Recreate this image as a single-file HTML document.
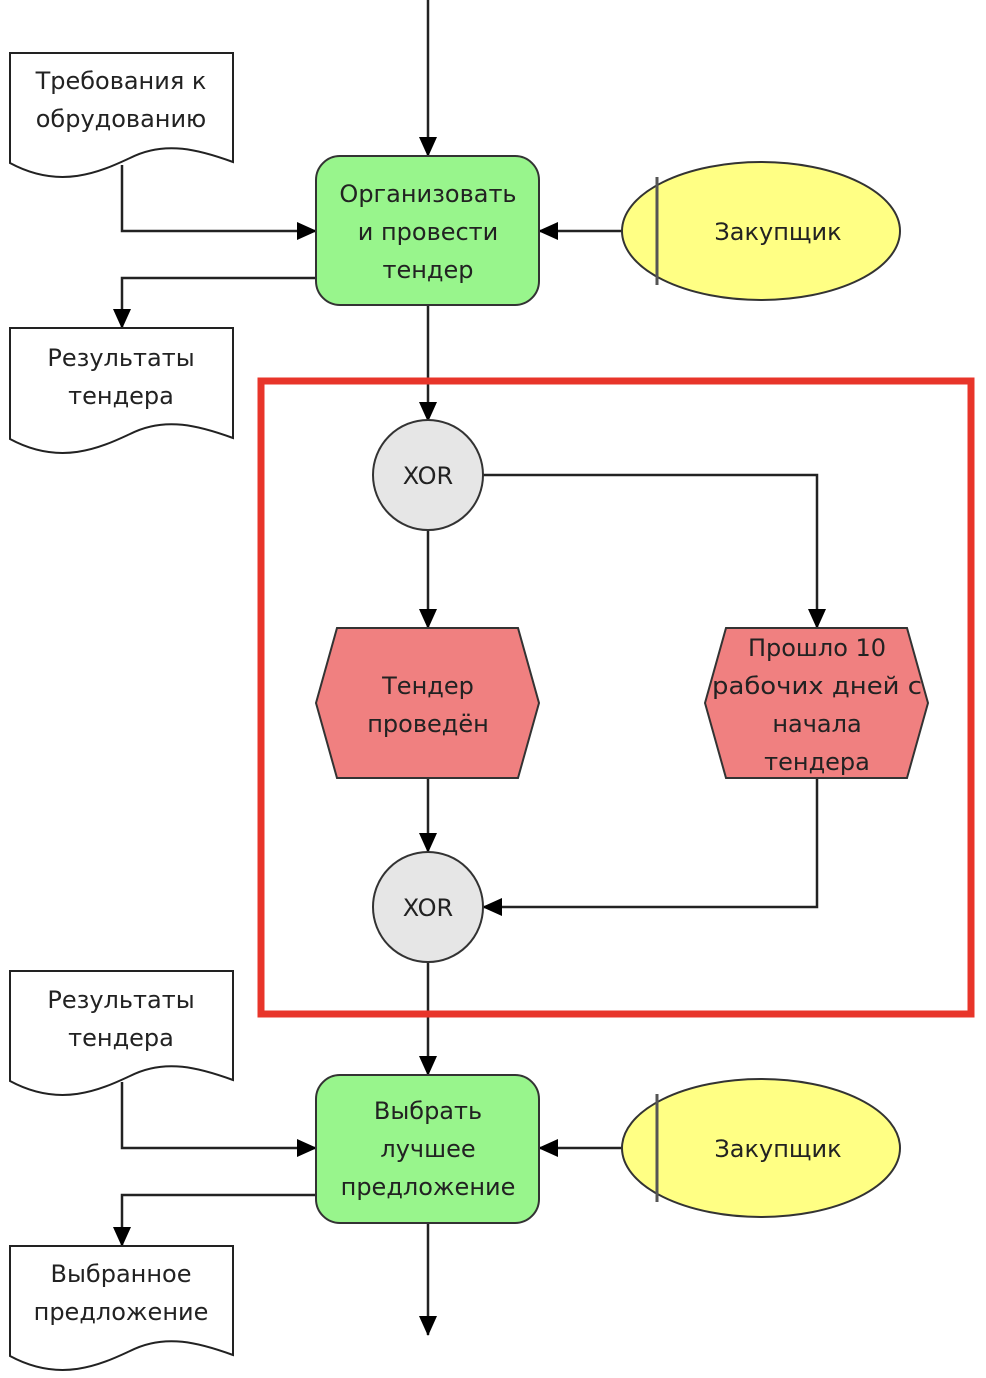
<!DOCTYPE html>
<html><head><meta charset="utf-8"><style>
html,body{margin:0;padding:0;background:#fff;}
svg{display:block;}
text{font-family:"DejaVu Sans","Liberation Sans",sans-serif;font-size:24px;fill:#222;text-anchor:middle;}
</style></head><body>
<svg width="986" height="1378" viewBox="0 0 986 1378" xmlns="http://www.w3.org/2000/svg">
<defs>
<marker id="b" viewBox="0 0 20 20" markerWidth="20" markerHeight="20" refX="19" refY="10" orient="auto" markerUnits="userSpaceOnUse">
<path d="M0,1 L20,10 L0,19 Z" fill="#000"/></marker>
</defs>
<g fill="none" stroke="#222" stroke-width="2.5">
<path d="M428,0 V156" marker-end="url(#b)"/>
<path d="M122,165 V231 H316" marker-end="url(#b)"/>
<path d="M316,278 H122 V328" marker-end="url(#b)"/>
<path d="M622,231 H539" marker-end="url(#b)"/>
<path d="M428,305 V421" marker-end="url(#b)"/>
<path d="M483,475 H817 V628" marker-end="url(#b)"/>
<path d="M428,530 V628" marker-end="url(#b)"/>
<path d="M428,778 V852" marker-end="url(#b)"/>
<path d="M817,778 V907 H483" marker-end="url(#b)"/>
<path d="M428,962 V1075" marker-end="url(#b)"/>
<path d="M122,1082 V1148 H316" marker-end="url(#b)"/>
<path d="M316,1195 H122 V1246" marker-end="url(#b)"/>
<path d="M622,1148 H539" marker-end="url(#b)"/>
<path d="M428,1223 V1335" marker-end="url(#b)"/>
</g>
<rect x="261" y="381" width="710" height="633" fill="none" stroke="#e8352a" stroke-width="7"/>
<g fill="#fff" stroke="#222" stroke-width="2">
<path d="M10,53 H233 V162 C200,150 165,140 130,158 C100,172 60,190 10,163 Z"/>
<path d="M10,328 H233 V438 C200,426 165,416 130,434 C100,448 60,466 10,439 Z"/>
<path d="M10,971 H233 V1080 C200,1068 165,1058 130,1076 C100,1090 60,1108 10,1081 Z"/>
<path d="M10,1246 H233 V1355 C200,1343 165,1333 130,1351 C100,1365 60,1383 10,1356 Z"/>
</g>
<text x="121" y="89">Требования к</text>
<text x="121" y="127">обрудованию</text>
<text x="121" y="366">Результаты</text>
<text x="121" y="404">тендера</text>
<text x="121" y="1008">Результаты</text>
<text x="121" y="1046">тендера</text>
<text x="121" y="1282">Выбранное</text>
<text x="121" y="1320">предложение</text>
<rect x="316" y="156" width="223" height="149" rx="24" fill="#98f58c" stroke="#333" stroke-width="2"/>
<text x="428" y="202">Организовать</text>
<text x="428" y="240">и провести</text>
<text x="428" y="278">тендер</text>
<rect x="316" y="1075" width="223" height="148" rx="24" fill="#98f58c" stroke="#333" stroke-width="2"/>
<text x="428" y="1119">Выбрать</text>
<text x="428" y="1157">лучшее</text>
<text x="428" y="1195">предложение</text>
<ellipse cx="761" cy="231" rx="139" ry="69" fill="#ffff84" stroke="#333" stroke-width="2"/>
<line x1="657" y1="177" x2="657" y2="285" stroke="#555" stroke-width="3"/>
<text x="778" y="240">Закупщик</text>
<ellipse cx="761" cy="1148" rx="139" ry="69" fill="#ffff84" stroke="#333" stroke-width="2"/>
<line x1="657" y1="1094" x2="657" y2="1202" stroke="#555" stroke-width="3"/>
<text x="778" y="1157">Закупщик</text>
<circle cx="428" cy="475" r="55" fill="#e6e6e6" stroke="#333" stroke-width="2"/>
<text x="428" y="484">XOR</text>
<circle cx="428" cy="907" r="55" fill="#e6e6e6" stroke="#333" stroke-width="2"/>
<text x="428" y="916">XOR</text>
<polygon points="337,628 518,628 539,703 518,778 337,778 316,703" fill="#f08080" stroke="#333" stroke-width="2"/>
<text x="428" y="694">Тендер</text>
<text x="428" y="732">проведён</text>
<polygon points="726,628 907,628 928,703 907,778 726,778 705,703" fill="#f08080" stroke="#333" stroke-width="2"/>
<text x="817" y="656">Прошло 10</text>
<text x="817" y="694" textLength="210" lengthAdjust="spacingAndGlyphs">рабочих дней с</text>
<text x="817" y="732">начала</text>
<text x="817" y="770">тендера</text>
</svg>
</body></html>
